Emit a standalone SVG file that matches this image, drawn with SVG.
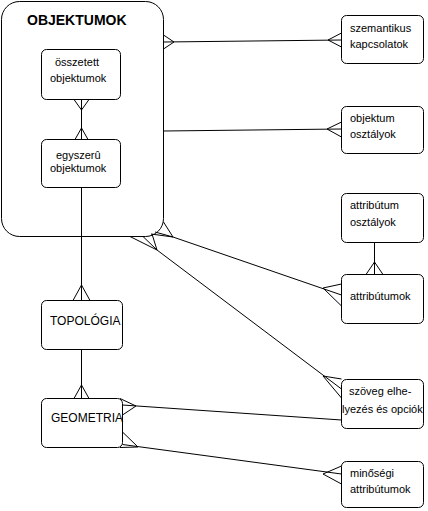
<svg xmlns="http://www.w3.org/2000/svg" width="428" height="511" viewBox="0 0 428 511">
<style>
  .box { fill: #ffffff; stroke: #000000; stroke-width: 1; }
  .ln { fill: none; stroke: #000000; stroke-width: 1; }
  .t { font-family: "Liberation Sans", Arial, sans-serif; font-size: 11px; fill: #000000; }
  .t12 { font-family: "Liberation Sans", Arial, sans-serif; font-size: 12px; fill: #000000; }
  .title { font-family: "Liberation Sans", Arial, sans-serif; font-size: 14px; font-weight: bold; fill: #000000; }
</style>
<rect x="0" y="0" width="428" height="511" fill="#ffffff"/>

<g id="objektumok">
  <rect class="box" x="1.5" y="1.5" width="162" height="235" rx="18" ry="18"/>
  <text class="title" x="27" y="25">OBJEKTUMOK</text>
</g>

<g id="osszetett">
  <rect class="box" x="41.5" y="49.5" width="79" height="50" rx="5" ry="5"/>
  <text class="t" x="55" y="66">összetett</text>
  <text class="t" x="50" y="82">objektumok</text>
</g>

<g id="egyszeru">
  <rect class="box" x="41.5" y="139.5" width="79" height="48" rx="5" ry="5"/>
  <text class="t" x="56" y="159">egyszerû</text>
  <text class="t" x="50" y="172">objektumok</text>
</g>

<g id="topologia">
  <rect class="box" x="41.5" y="300.5" width="81" height="49" rx="5" ry="5"/>
  <text class="t12" x="50" y="325">TOPOLÓGIA</text>
</g>

<g id="geometria">
  <rect class="box" x="41.5" y="398.5" width="81" height="49" rx="5" ry="5"/>
  <text class="t12" x="51" y="422">GEOMETRIA</text>
</g>

<g id="szemantikus">
  <rect class="box" x="341.5" y="15.5" width="82" height="48" rx="5" ry="5"/>
  <text class="t" x="350" y="32">szemantikus</text>
  <text class="t" x="350" y="48">kapcsolatok</text>
</g>

<g id="objektum-osztalyok">
  <rect class="box" x="341.5" y="106.5" width="82" height="47" rx="5" ry="5"/>
  <text class="t" x="350" y="122">objektum</text>
  <text class="t" x="350" y="138">osztályok</text>
</g>

<g id="attributum-osztalyok">
  <rect class="box" x="341.5" y="193.5" width="82" height="49" rx="5" ry="5"/>
  <text class="t" x="350" y="209">attribútum</text>
  <text class="t" x="350" y="226">osztályok</text>
</g>

<g id="attributumok">
  <rect class="box" x="341.5" y="274.5" width="82" height="49" rx="5" ry="5"/>
  <text class="t" x="350" y="300">attribútumok</text>
</g>

<g id="szoveg">
  <rect class="box" x="341.5" y="379.5" width="82" height="49" rx="5" ry="5"/>
  <text class="t" x="349" y="395">szöveg elhe-</text>
  <text class="t" x="342" y="413">lyezés és opciók</text>
</g>

<g id="minosegi">
  <rect class="box" x="341.5" y="461.5" width="82" height="46" rx="5" ry="5"/>
  <text class="t" x="350" y="477">minőségi</text>
  <text class="t" x="350" y="493">attribútumok</text>
</g>

<g id="connectors">
  <!-- összetett - egyszerű -->
  <line class="ln" x1="81.5" y1="99.5" x2="81.5" y2="139.5"/>
  <polyline class="ln" points="74,99.5 81.5,110 89,99.5"/>
  <polyline class="ln" points="75,139.5 81.5,128 88,139.5"/>
  <!-- egyszerű - topológia -->
  <line class="ln" x1="81.5" y1="187.5" x2="81.5" y2="300.5"/>
  <polyline class="ln" points="73,300.5 81.5,285 90,300.5"/>
  <!-- topológia - geometria -->
  <line class="ln" x1="81.5" y1="349.5" x2="81.5" y2="398.5"/>
  <polyline class="ln" points="74,398.5 81.5,385 89,398.5"/>
  <!-- objektumok - szemantikus kapcsolatok -->
  <line class="ln" x1="163.5" y1="42" x2="341.5" y2="40"/>
  <polyline class="ln" points="163.5,35 174,42 163.5,49"/>
  <polyline class="ln" points="341.5,33 328,40 341.5,47"/>
  <!-- objektumok - objektum osztályok -->
  <line class="ln" x1="163.5" y1="131" x2="341.5" y2="129"/>
  <polyline class="ln" points="341.5,122 327,129 341.5,137"/>
  <!-- attribútum osztályok - attribútumok -->
  <line class="ln" x1="374.5" y1="242.5" x2="374.5" y2="274.5"/>
  <polyline class="ln" points="366,274.5 374.5,262 383,274.5"/>
  <!-- objektumok - attribútumok -->
  <line class="ln" x1="173" y1="237" x2="341.5" y2="295"/>
  <polyline class="ln" points="163.5,222 173,237 151,234"/>
  <line class="ln" x1="155" y1="232" x2="173" y2="237"/>
  <polyline class="ln" points="341.5,284 323,288 341.5,306"/>
  <!-- objektumok - szöveg elhelyezés -->
  <line class="ln" x1="157" y1="250" x2="341.5" y2="389"/>
  <polyline class="ln" points="130,236.5 157,250 152,234"/>
  <line class="ln" x1="143" y1="236.5" x2="157" y2="250"/>
  <polyline class="ln" points="341.5,379 323,376 341.5,398"/>
  <!-- geometria - szöveg elhelyezés -->
  <line class="ln" x1="122.5" y1="405" x2="341.5" y2="420"/>
  <polyline class="ln" points="120,398.5 136,406 122.5,415"/>
  <!-- geometria - minőségi attribútumok -->
  <line class="ln" x1="122.5" y1="444.5" x2="341.5" y2="474"/>
  <polyline class="ln" points="120,447.5 138,447 122.5,432"/>
  <polyline class="ln" points="341.5,466 323,474 341.5,484"/>
</g>
</svg>
